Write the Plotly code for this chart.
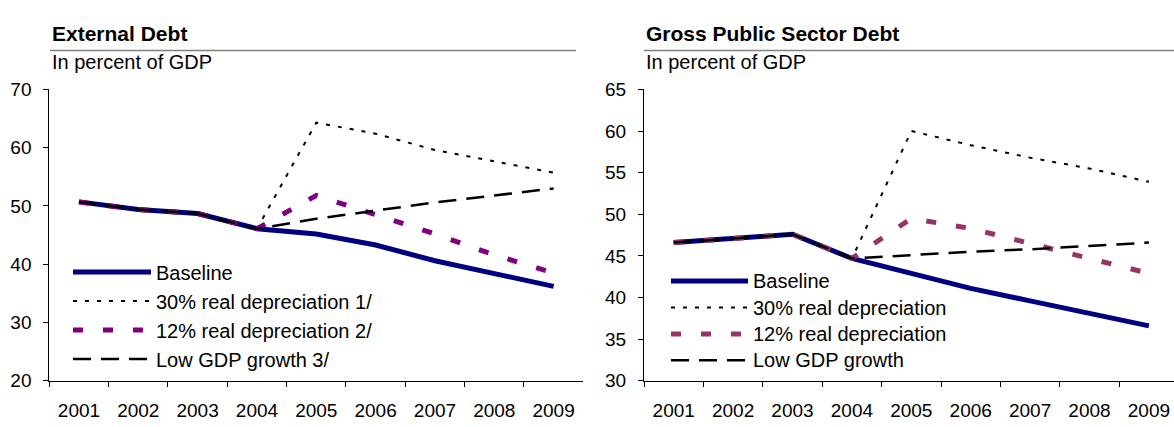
import plotly.graph_objects as go

years = ["2001", "2002", "2003", "2004", "2005", "2006", "2007", "2008", "2009"]

# External Debt (percent of GDP)
ext_baseline = [50.7, 49.4, 48.7, 46.1, 45.2, 43.3, 40.6, 38.4, 36.2]
ext_dep30 = [50.7, 49.4, 48.7, 46.1, 64.3, 62.4, 59.6, 57.6, 55.7]
ext_dep12 = [50.7, 49.4, 48.7, 46.1, 51.8, 48.5, 45.2, 41.6, 38.5]
ext_lowgdp = [50.7, 49.4, 48.7, 46.1, 47.8, 49.2, 50.6, 51.8, 53.0]

# Gross Public Sector Debt (percent of GDP)
pub_baseline = [46.6, 47.1, 47.6, 44.7, 42.9, 41.1, 39.6, 38.1, 36.6]
pub_dep30 = [46.6, 47.1, 47.6, 44.7, 60.0, 58.3, 56.8, 55.5, 53.9]
pub_dep12 = [46.6, 47.1, 47.6, 44.7, 49.5, 48.3, 46.5, 44.6, 42.9]
pub_lowgdp = [46.6, 47.1, 47.6, 44.7, 45.1, 45.5, 45.8, 46.2, 46.6]

ext_names = ["Baseline", "30% real depreciation 1/", "12% real depreciation 2/", "Low GDP growth 3/"]
pub_names = ["Baseline", "30% real depreciation", "12% real depreciation", "Low GDP growth"]

FONT = "Liberation Sans, Arial, sans-serif"
W, H = 1174, 427

def px(x):
    return x / W

def py(y):
    return 1 - y / H

styles = [
    dict(color="#000080", width=5, dash="solid"),
    dict(color="#000000", width=2, dash="4px,8px"),
    None,
    dict(color="#000000", width=2.5, dash="18px,10px"),
]

fig = go.Figure()

def add_series(vals_list, names, xa, ya, legend, purple, wrap=None):
    for i, (vals, name) in enumerate(zip(vals_list, names)):
        st = styles[i] if styles[i] is not None else dict(color=purple, width=5, dash="10px,20px")
        label = name if wrap is None else wrap.format(name)
        fig.add_trace(go.Scatter(
            x=years, y=vals, name=label, mode="lines",
            line=dict(color=st["color"], width=st["width"], dash=st["dash"]),
            xaxis=xa, yaxis=ya, legend=legend, hoverinfo="skip",
        ))

add_series([ext_baseline, ext_dep30, ext_dep12, ext_lowgdp], ext_names, "x", "y", "legend", "#800080")
add_series([pub_baseline, pub_dep30, pub_dep12, pub_lowgdp], pub_names, "x2", "y2", "legend2", "#993366",
           wrap='<span style="font-size:20px">{}</span>')

y_top, y_bot = 83.5, 390
cat_w = 59.4
left_x0, left_x1 = 49.3, 583.3
right_x0 = 644

xcommon = dict(
    type="category", showgrid=False, zeroline=False,
    showline=True, linecolor="#000000", linewidth=1,
    ticks="outside", ticklen=5, tickcolor="#000000", tickwidth=1,
    tickson="boundaries",
    tickfont=dict(family=FONT, size=19, color="#000000"),
    ticklabelstandoff=12, fixedrange=True,
)
ycommon = dict(
    showgrid=False, zeroline=False,
    showline=True, linecolor="#000000", linewidth=1,
    ticks="outside", ticklen=5, tickcolor="#000000", tickwidth=1,
    tickfont=dict(family=FONT, size=19, color="#000000"),
    ticklabelstandoff=8, fixedrange=True,
)

fig.update_layout(
    width=W, height=H,
    margin=dict(l=0, r=0, t=0, b=0),
    paper_bgcolor="white", plot_bgcolor="white",
    font=dict(family=FONT, color="#000000"),
    xaxis=dict(xcommon, domain=[px(left_x0), px(left_x1)], range=[-0.5, 8.5], anchor="y"),
    yaxis=dict(ycommon, domain=[py(y_bot), py(y_top)], range=[20, 70], dtick=10, anchor="x"),
    xaxis2=dict(xcommon, domain=[px(right_x0), 1.0],
                range=[-0.5, -0.5 + (W - right_x0) / cat_w], anchor="y2"),
    yaxis2=dict(ycommon, domain=[py(y_bot), py(y_top)], range=[30, 65], dtick=5, anchor="x2"),
    legend=dict(x=px(68), y=py(255), xanchor="left", yanchor="top",
                font=dict(family=FONT, size=20, color="#000000"),
                itemwidth=78, bgcolor="rgba(0,0,0,0)", traceorder="normal",
                tracegroupgap=0),
    legend2=dict(x=px(666), y=py(266), xanchor="left", yanchor="top",
                 font=dict(family=FONT, size=18, color="#000000"),
                 itemwidth=77, bgcolor="rgba(0,0,0,0)", traceorder="normal",
                 tracegroupgap=0),
    showlegend=True,
)

# titles, rules and subtitles
for x0, x1, title in [(50, 576, "External Debt"), (644, 1174, "Gross Public Sector Debt")]:
    fig.add_annotation(x=px(x0), y=py(25), xref="paper", yref="paper",
                       xanchor="left", yanchor="middle", showarrow=False,
                       text="<b>" + title + "</b>",
                       font=dict(family=FONT, size=21, color="#000000"))
    fig.add_shape(type="line", xref="paper", yref="paper",
                  x0=px(x0), x1=px(x1), y0=py(42.7), y1=py(42.7),
                  line=dict(color="#808080", width=1.5))
    fig.add_annotation(x=px(x0), y=py(55), xref="paper", yref="paper",
                       xanchor="left", yanchor="middle", showarrow=False,
                       text="In percent of GDP",
                       font=dict(family=FONT, size=20, color="#000000"))

fig.write_html(
    "out.html",
    config={"displayModeBar": False},
    post_script="document.body.style.margin='0';document.body.style.overflow='hidden';",
)
